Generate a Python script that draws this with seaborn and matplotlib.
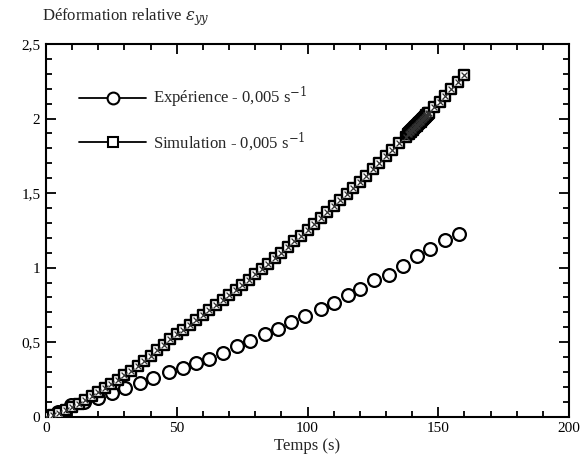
import numpy as np
import pandas as pd
import matplotlib
matplotlib.use("Agg")
import matplotlib.pyplot as plt
import seaborn as sns
from matplotlib.lines import Line2D
from matplotlib.ticker import MultipleLocator, FuncFormatter

# ---- data ----
exp_t = [0, 4.5, 9.5, 14.5, 19.8, 25.1, 30.2, 35.9, 41.0, 47.1, 52.2, 57.3, 62.3,
         67.5, 72.9, 78.2, 83.7, 88.9, 93.8, 99.2, 105.0, 110.3, 115.5, 120.2,
         125.6, 131.0, 136.4, 141.9, 146.9, 152.4, 158.1]
exp_y = [0.0, 0.03, 0.08, 0.10, 0.125, 0.157, 0.195, 0.228, 0.258, 0.297, 0.329,
         0.358, 0.390, 0.430, 0.472, 0.508, 0.553, 0.591, 0.635, 0.673, 0.725,
         0.763, 0.818, 0.858, 0.914, 0.953, 1.009, 1.076, 1.128, 1.183, 1.228]

sim_t = [0, 2.5, 5, 7.5, 10, 12.5, 15, 17.5, 20, 22.5, 25, 27.5, 30, 32.5, 35,
         37.5, 40, 42.5, 45, 47.5, 50, 52.5, 55, 57.5, 60, 62.5, 65, 67.5, 70,
         72.5, 75, 77.5, 80, 82.5, 85, 87.5, 90, 92.5, 95, 97.5, 100, 102.5, 105,
         107.5, 110, 112.5, 115, 117.5, 120, 122.5, 125, 127.5, 130, 132.5, 135,
         137.5,
         138.5, 138.75, 139.0, 139.25, 139.5, 139.75, 140.0, 140.25, 140.5,
         140.75, 141.0, 141.25, 141.5, 141.75, 142.0, 142.25, 142.5, 142.75,
         143.0, 143.25, 143.5, 143.75, 144.0, 144.25, 144.5, 144.75, 145.0,
         145.25, 145.5, 145.75, 146.0, 146.25, 146.5,
         148.5, 150.5, 152.5, 155, 157.5, 160]
sim_y = [0.0, 0.012, 0.027, 0.045, 0.065, 0.088, 0.112, 0.137, 0.163, 0.19,
         0.218, 0.247, 0.277, 0.308, 0.342, 0.376, 0.41, 0.445, 0.482, 0.52,
         0.552, 0.583, 0.615, 0.647, 0.680, 0.713, 0.746, 0.780, 0.814, 0.849,
         0.883, 0.919, 0.954, 0.990, 1.027, 1.064, 1.101, 1.138, 1.176, 1.214,
         1.253, 1.292, 1.331, 1.371, 1.411, 1.452, 1.493, 1.534, 1.575, 1.617,
         1.660, 1.702, 1.746, 1.789, 1.833, 1.877,
         1.895, 1.899, 1.904, 1.908, 1.913, 1.917, 1.922, 1.926, 1.931,
         1.935, 1.940, 1.944, 1.949, 1.953, 1.958, 1.962, 1.967, 1.971,
         1.976, 1.980, 1.985, 1.989, 1.994, 1.998, 2.003, 2.007, 2.012,
         2.016, 2.021, 2.025, 2.030, 2.034, 2.039,
         2.076, 2.113, 2.151, 2.197, 2.245, 2.292]

exp_label = "Expérience - 0,005 s$^{-1}$"
sim_label = "Simulation - 0,005 s$^{-1}$"

df_exp = pd.DataFrame({"t": exp_t, "y": exp_y})
df_sim = pd.DataFrame({"t": sim_t, "y": sim_y})

sns.set_style("ticks")
plt.rcParams["font.family"] = ["Liberation Serif", "DejaVu Serif"]
plt.rcParams["mathtext.fontset"] = "dejavuserif"

fig = plt.figure(figsize=(5.83, 4.73), dpi=100)
ax = fig.add_axes([0.0789, 0.119, 0.8971, 0.788])

sns.scatterplot(data=df_exp, x="t", y="y", ax=ax, marker="o", s=85,
                facecolor="white", edgecolor="black", linewidth=1.6, zorder=3)
sns.scatterplot(data=df_sim, x="t", y="y", ax=ax, marker="s", s=55,
                facecolor="white", edgecolor="black", linewidth=1.7, zorder=4)
sns.scatterplot(data=df_sim, x="t", y="y", ax=ax, marker="x", s=18,
                color="#333333", linewidth=0.9, zorder=5)

ax.set_xlim(0, 200)
ax.set_ylim(0, 2.5)
ax.xaxis.set_major_locator(MultipleLocator(50))
ax.xaxis.set_minor_locator(MultipleLocator(10))
ax.yaxis.set_major_locator(MultipleLocator(0.5))
ax.yaxis.set_minor_locator(MultipleLocator(0.1))
fmt = FuncFormatter(lambda v, p: ("%g" % v).replace(".", ","))
ax.xaxis.set_major_formatter(fmt)
ax.yaxis.set_major_formatter(fmt)
ax.tick_params(which="both", direction="in", top=True, right=True,
               labelsize=11, width=1.3, colors="black", pad=4)
ax.tick_params(which="major", length=7)
ax.tick_params(which="minor", length=4)
for s in ax.spines.values():
    s.set_linewidth(1.5)
    s.set_color("black")
    s.set_visible(True)

ax.set_xlabel("Temps (s)", fontsize=12, labelpad=2)
ax.set_ylabel("")
fig.text(0.072, 0.957, "Déformation relative $\\varepsilon_{yy}$", fontsize=12,
         ha="left", va="baseline")

handles = [
    Line2D([0], [0], color="black", lw=1.3, marker="o", markersize=8.5,
           markerfacecolor="white", markeredgecolor="black", markeredgewidth=1.5),
    Line2D([0], [0], color="black", lw=1.3, marker="s", markersize=6.5,
           markerfacecolor="white", markeredgecolor="black", markeredgewidth=1.5),
]
ax.legend(handles, [exp_label, sim_label], loc="upper left",
          bbox_to_anchor=(0.035, 0.93), frameon=False, handlelength=4.0,
          fontsize=12, labelspacing=1.2, handletextpad=0.4)

fig.savefig("out.png", dpi=100)
